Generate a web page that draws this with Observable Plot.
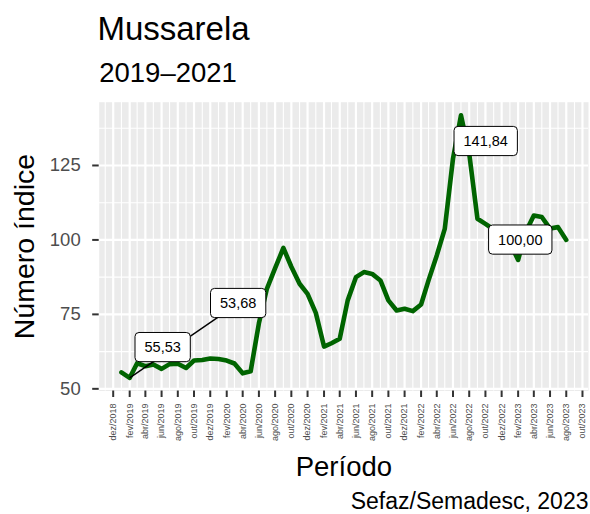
<!DOCTYPE html>
<html>
<head>
<meta charset="utf-8">
<script src="https://cdn.jsdelivr.net/npm/d3@7"></script>
<script src="https://cdn.jsdelivr.net/npm/@observablehq/plot@0.6"></script>
<style>
  html, body { margin: 0; padding: 0; background: white; }
</style>
</head>
<body>
<div id="chart"></div>
<script>
// ---- Data ----
const titulo = "Mussarela";
const subtitulo = "2019–2021";
const fonte = "Sefaz/Semadesc, 2023";
const tituloX = "Período";
const tituloY = "Número índice";

const mesesAbrev = ["jan","fev","mar","abr","mai","jun","jul","ago","set","out","nov","dez"];
const anos = [2019, 2020, 2021, 2022, 2023];
const indice2019 = [55.53, 53.68, 58.6, 57.6, 58.2, 56.7, 58.3, 58.4, 57.0, 59.5, 59.7, 60.2];
const indice2020 = [60.0, 59.5, 58.5, 55.2, 55.9, 72.0, 83.6, 90.5, 97.3, 91.0, 85.3, 81.9];
const indice2021 = [75.5, 64.2, 65.3, 66.8, 79.7, 87.5, 89.2, 88.6, 86.4, 79.7, 76.3, 76.9];
const indice2022 = [76.1, 78.3, 86.4, 94.8, 103.7, 127.3, 141.84, 129.0, 107.1, 105.4, 103.5, 100.5];
const indice2023 = [99.0, 93.3, 102.6, 108.2, 107.7, 103.8, 104.3, 100.00];
const indicesPorAno = [indice2019, indice2020, indice2021, indice2022, indice2023];

const yTicks = [50, 75, 100, 125];
const yMinor = [62.5, 87.5, 112.5, 137.5];
const primeiroTick = "2018-12-01";
const ultimoTick = "2023-10-01";

// annotation labels (ggrepel-style)
const rotuloTexto = ["55,53", "53,68", "141,84", "100,00"];
const rotuloPonto = ["2019-01-01", "2019-02-01", "2022-07-01", "2023-08-01"];
const rotuloPosData = ["2019-06-05", "2020-03-15", "2022-10-02", "2023-02-09"];
const rotuloPosValor = [63.9, 78.7, 133.1, 100.0];
const rotuloSegmento = [false, true, false, false];

// ---- Build table ----
const dados = [];
anos.forEach((ano, k) => {
  indicesPorAno[k].forEach((v, m) => {
    dados.push({data: new Date(Date.UTC(ano, m, 1)), valor: v});
  });
});
const valorEm = new Map(dados.map(d => [+d.data, d.valor]));
const rotulos = rotuloTexto.map((t, i) => {
  const p = new Date(rotuloPonto[i] + "T00:00:00Z");
  return {
    texto: t,
    seg: rotuloSegmento[i],
    x1: p, y1: valorEm.get(+p),
    x2: new Date(rotuloPosData[i] + "T00:00:00Z"), y2: rotuloPosValor[i]
  };
});

// ggplot-like 5% expansion
const xmin = d3.min(dados, d => d.data), xmax = d3.max(dados, d => d.data);
const xs = xmax - xmin;
const xDomain = [new Date(+xmin - 0.05 * xs), new Date(+xmax + 0.05 * xs)];
const ymin = d3.min(dados, d => d.valor), ymax = d3.max(dados, d => d.valor);
const ys = ymax - ymin;
const yDomain = [ymin - 0.05 * ys, ymax + 0.05 * ys];

const tickDatas = d3.utcMonth.range(new Date(primeiroTick + "T00:00:00Z"), d3.utcMonth.offset(new Date(ultimoTick + "T00:00:00Z"), 1), 2);
const mesesTodos = d3.utcMonth.range(d3.utcMonth.ceil(xDomain[0]), xDomain[1]);
const minorDatas = mesesTodos.filter(d => !tickDatas.some(t => +t === +d));
const fmt = d => mesesAbrev[d.getUTCMonth()] + "/" + d.getUTCFullYear();

const FONT = "'Liberation Sans', Arial, Helvetica, sans-serif";

const chart = Plot.plot({
  width: 590,
  height: 514,
  marginLeft: 98.7,
  marginRight: 2,
  marginTop: 101.7,
  marginBottom: 123.5,
  style: {fontFamily: FONT, background: "white", overflow: "visible"},
  x: {type: "utc", domain: xDomain},
  y: {domain: yDomain},
  marks: [
    Plot.frame({fill: "#EBEBEB", stroke: null}),
    Plot.ruleY(yMinor, {stroke: "white", strokeWidth: 1.1}),
    Plot.ruleX(minorDatas, {stroke: "white", strokeWidth: 1.1}),
    Plot.ruleY(yTicks, {stroke: "white", strokeWidth: 2.2}),
    Plot.ruleX(tickDatas, {stroke: "white", strokeWidth: 2.2}),
    Plot.axisY({ticks: yTicks, tickSize: 6.5, tickPadding: 12, fontSize: 18.5,
      tickFormat: d => String(d), label: null, stroke: "#333333", fill: "#4D4D4D", strokeWidth: 2}),
    Plot.axisX({ticks: tickDatas, tickSize: 6.5, tickFormat: () => "", label: null,
      stroke: "#333333", strokeWidth: 2}),
    Plot.text(tickDatas, {x: d => d, text: fmt, frameAnchor: "bottom", rotate: -90,
      textAnchor: "end", lineAnchor: "middle", dy: 12.5, fontSize: 9, fill: "#4D4D4D"}),
    Plot.line(dados, {x: "data", y: "valor", stroke: "#006400", strokeWidth: 4.6,
      strokeLinejoin: "round"}),
    Plot.link(rotulos.filter(d => d.seg), {x1: "x1", y1: "y1", x2: "x2", y2: "y2", stroke: "black", strokeWidth: 1.4}),
    Plot.text(rotulos, {x: "x2", y: "y2", text: "texto", fontSize: 14.5, fill: "black",
      lineAnchor: "middle", textAnchor: "middle"}),
    // titles
    Plot.text([titulo], {text: d => d, frameAnchor: "top-left", textAnchor: "start",
      lineAnchor: "bottom", dx: -1.8, dy: -61.7, fontSize: 33, fill: "black"}),
    Plot.text([subtitulo], {text: d => d, frameAnchor: "top-left", textAnchor: "start",
      lineAnchor: "bottom", dy: -20, fontSize: 27.5, fill: "black"}),
    Plot.text([tituloX], {text: d => d, frameAnchor: "bottom", textAnchor: "middle",
      lineAnchor: "bottom", dy: 84.5, fontSize: 27.5, fill: "black"}),
    Plot.text([tituloY], {text: d => d, frameAnchor: "left", textAnchor: "middle",
      lineAnchor: "bottom", rotate: -90, dx: -65.7, fontSize: 28.5, fill: "black"}),
    Plot.text([fonte], {text: d => d, frameAnchor: "bottom-right", textAnchor: "end",
      lineAnchor: "bottom", dy: 117.5, fontSize: 23, fill: "black"})
  ]
});

document.getElementById("chart").appendChild(chart);

// draw rounded white boxes behind annotation label texts
const labelSet = new Set(rotuloTexto);
chart.querySelectorAll("text").forEach(t => {
  if (!labelSet.has(t.textContent)) return;
  const bb = t.getBBox();
  const padX = 9.5, padY = 6.6;
  const r = document.createElementNS("http://www.w3.org/2000/svg", "rect");
  r.setAttribute("x", bb.x - padX);
  r.setAttribute("y", bb.y - padY);
  r.setAttribute("width", bb.width + 2 * padX);
  r.setAttribute("height", bb.height + 2 * padY);
  r.setAttribute("rx", 4);
  r.setAttribute("fill", "white");
  r.setAttribute("stroke", "black");
  r.setAttribute("stroke-width", 1);
  const tr = t.getAttribute("transform");
  if (tr) r.setAttribute("transform", tr);
  t.parentNode.insertBefore(r, t);
});
</script>
</body>
</html>
